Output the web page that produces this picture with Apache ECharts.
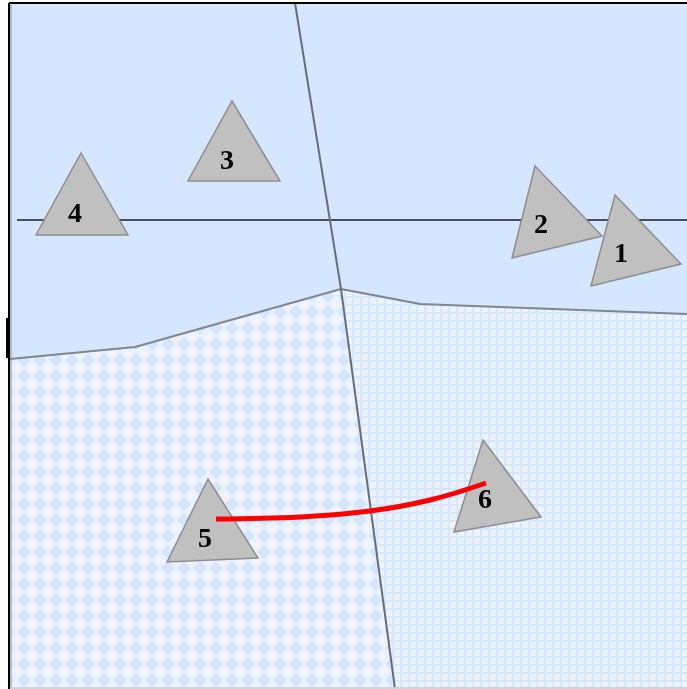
<!DOCTYPE html>
<html>
<head>
<meta charset="utf-8">
<script src="https://cdn.jsdelivr.net/npm/echarts@6/dist/echarts.min.js"></script>
<style>
html, body { margin: 0; padding: 0; background: #fff; }
#main { width: 687px; height: 689px; }
</style>
</head>
<body>
<div id="main"></div>
<script>
// region outlines (picture coordinates, y grows downward)
const topRegion = [[10, 4], [687, 4], [687, 314], [420, 304], [341, 289], [135, 347], [10, 359]];
const leftRegion = [[10, 359], [135, 347], [341, 289], [395, 689], [10, 689]];
const rightRegion = [[341, 289], [420, 304], [687, 314], [687, 689], [395, 689]];

const splitLine = [[295, 3], [341, 289], [395, 689]];
const boundLine = [[10, 359], [135, 347], [341, 289], [420, 304], [687, 314]];
const horizLine = [[17, 220], [687, 220]];
const redPath = [[216, 519], [300, 517], [370, 511], [430, 500], [486, 483]];

const triangles = [
    [[615, 195], [681, 264], [591, 286]],
    [[535, 166], [602, 236], [512, 258]],
    [[232, 101], [280, 181], [188, 181]],
    [[81, 153], [128, 235], [36, 235]],
    [[208, 479], [258, 558], [167, 562]],
    [[483, 440], [541, 517], [454, 532]]
];
const triLabels = ['1', '2', '3', '4', '5', '6'];
const labelPos = [[621, 255], [541, 226], [227, 162], [75, 215], [205, 540], [485, 501]];

// fill patterns
function diamondPattern() {
    const c = document.createElement('canvas');
    c.width = 16; c.height = 16;
    const ctx = c.getContext('2d');
    ctx.fillStyle = '#edf2ff';
    ctx.fillRect(0, 0, 16, 16);
    ctx.fillStyle = '#d3e6fd';
    ctx.beginPath();
    ctx.moveTo(8, 1); ctx.lineTo(15, 8); ctx.lineTo(8, 15); ctx.lineTo(1, 8);
    ctx.closePath();
    ctx.fill();
    return c;
}
function gridPattern() {
    const c = document.createElement('canvas');
    c.width = 8; c.height = 8;
    const ctx = c.getContext('2d');
    ctx.fillStyle = '#d5e7fd';
    ctx.fillRect(0, 0, 8, 8);
    ctx.fillStyle = '#edf2ff';
    ctx.fillRect(2, 2, 6, 6);
    return c;
}

function regionSeries(points, fill, z) {
    return {
        type: 'custom',
        z: z,
        silent: true,
        data: [0],
        renderItem: function (params, api) {
            return {
                type: 'polygon',
                shape: { points: points.map(p => api.coord(p)) },
                style: { fill: fill, stroke: null }
            };
        }
    };
}

function lineSeries(data, color, width, z, smooth) {
    return {
        type: 'line',
        z: z,
        silent: true,
        data: data,
        showSymbol: false,
        smooth: smooth || false,
        lineStyle: { color: color, width: width },
        animation: false
    };
}

const myChart = echarts.init(document.getElementById('main'));
myChart.setOption({
    animation: false,
    backgroundColor: '#ffffff',
    grid: { left: 0, right: 0, top: 0, bottom: 0 },
    xAxis: { type: 'value', min: 0, max: 687, show: false },
    yAxis: { type: 'value', min: 0, max: 689, inverse: true, show: false },
    series: [
        regionSeries(topRegion, '#d4e7fe', 1),
        regionSeries(leftRegion, { image: diamondPattern(), repeat: 'repeat' }, 1),
        regionSeries(rightRegion, { image: gridPattern(), repeat: 'repeat' }, 1),
        lineSeries(boundLine, '#80858f', 2, 2),
        lineSeries(horizLine, '#4a4e57', 2, 2),
        lineSeries(splitLine, '#6a6e78', 2, 2),
        // frame
        lineSeries([[9, 3], [687, 3]], '#000000', 2, 3),
        lineSeries([[9, 3], [9, 689]], '#000000', 2, 3),
        lineSeries([[11, 5], [11, 689]], '#8593a6', 1, 3),
        lineSeries([[8, 318], [8, 358]], '#000000', 4, 3),
        lineSeries([[10, 688], [687, 688]], '#c9d2de', 2, 3),
        {
            type: 'custom',
            z: 4,
            silent: true,
            data: triangles.map((t, i) => i),
            renderItem: function (params, api) {
                const t = triangles[params.dataIndex];
                return {
                    type: 'polygon',
                    shape: { points: t.map(p => api.coord(p)) },
                    style: { fill: '#c0c0c0', stroke: '#8e8e8e', lineWidth: 1.5 }
                };
            }
        },
        lineSeries(redPath, '#ff0000', 5, 5, 0.4),
        {
            type: 'custom',
            z: 6,
            silent: true,
            data: labelPos.map((p, i) => i),
            renderItem: function (params, api) {
                const pt = api.coord(labelPos[params.dataIndex]);
                return {
                    type: 'text',
                    x: pt[0],
                    y: pt[1],
                    style: {
                        text: triLabels[params.dataIndex],
                        fill: '#000',
                        font: 'bold 28px "Liberation Serif", serif',
                        align: 'center',
                        verticalAlign: 'middle'
                    }
                };
            }
        }
    ]
});
</script>
</body>
</html>
